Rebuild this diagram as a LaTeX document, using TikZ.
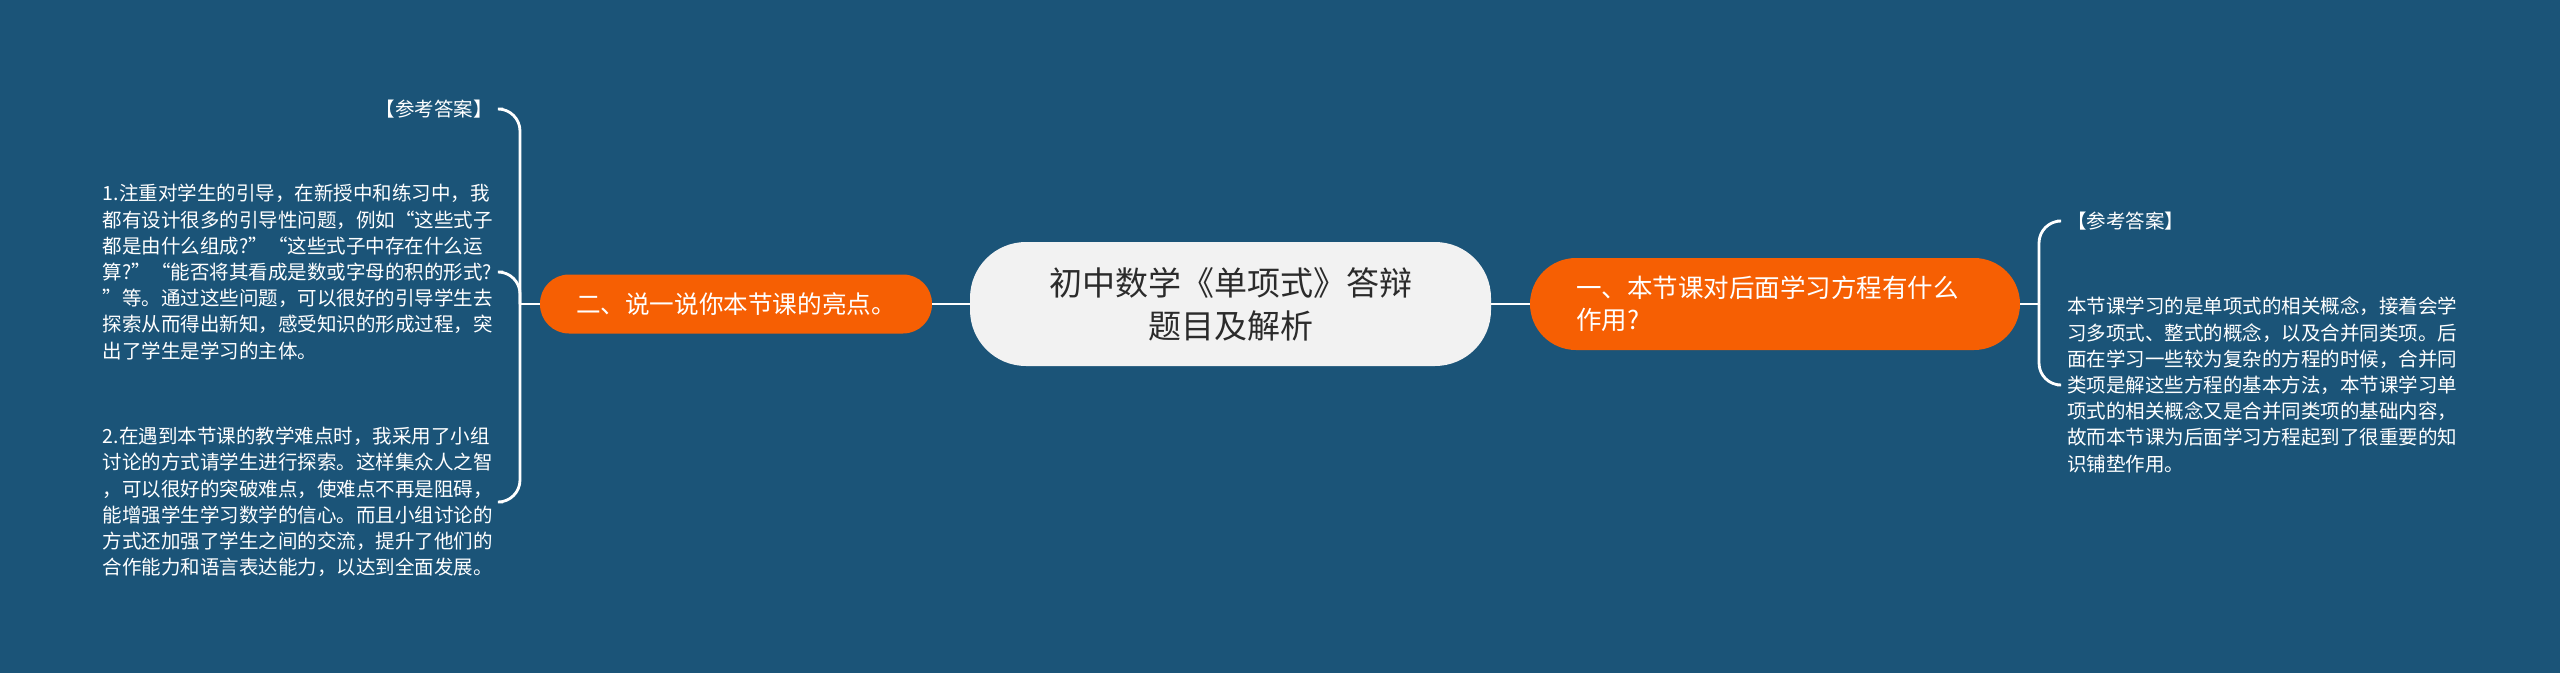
\documentclass[tikz,border=0pt]{standalone}
\usepackage{fontspec}
\setmainfont{Noto Sans CJK SC}
\definecolor{bg}{HTML}{1B5478}
\definecolor{org}{HTML}{F65F03}
\definecolor{ctr}{HTML}{F2F2F2}
\definecolor{ttl}{HTML}{2B2B2B}
\begin{document}
\begin{tikzpicture}[x=1pt,y=-1pt,
  conn/.style={draw=white,line width=2.8pt},
  ctrbox/.style={fill=ctr,rounded corners=56pt,minimum width=521pt,minimum height=124pt,text=ttl,font=\fontsize{33}{43}\selectfont,align=center,inner sep=0pt},
  topicbox/.style={fill=org,text=white,inner sep=0pt},
  leaf/.style={text=white,font=\fontsize{19.5}{26.2}\selectfont,align=left,inner xsep=10pt,inner ysep=2pt},
]
\fill[bg] (0,0) rectangle (2560,673);
\node[ctrbox] (c) at (1230.5,304) {初中数学《单项式》答辩\\题目及解析};
\node[topicbox,rounded corners=29pt,minimum width=392pt,minimum height=59pt,font=\fontsize{24.6}{30}\selectfont] (l) at (736,304) {二、说一说你本节课的亮点。};
\node[topicbox,rounded corners=46pt,minimum width=490pt,minimum height=92pt,font=\fontsize{25.5}{32}\selectfont,text width=398pt,inner xsep=46pt,align=left] (r) at (1775,304) {一、本节课对后面学习方程有什么\\作用?};

\node[leaf,anchor=east] (la) at (503,109) {【参考答案】};
\node[leaf,anchor=east] (lb) at (503,272) {1.注重对学生的引导，在新授中和练习中，我\\都有设计很多的引导性问题，例如“这些式子\\都是由什么组成?”“这些式子中存在什么运\\算?”“能否将其看成是数或字母的积的形式?\\”等。通过这些问题，可以很好的引导学生去\\探索从而得出新知，感受知识的形成过程，突\\出了学生是学习的主体。};
\node[leaf,anchor=east] (lc) at (503,502) {2.在遇到本节课的教学难点时，我采用了小组\\讨论的方式请学生进行探索。这样集众人之智\\，可以很好的突破难点，使难点不再是阻碍，\\能增强学生学习数学的信心。而且小组讨论的\\方式还加强了学生之间的交流，提升了他们的\\合作能力和语言表达能力，以达到全面发展。};

\node[leaf,anchor=west] (ra) at (2057,221) {【参考答案】};
\node[leaf,anchor=west] (rb) at (2057,385) {本节课学习的是单项式的相关概念，接着会学\\习多项式、整式的概念，以及合并同类项。后\\面在学习一些较为复杂的方程的时候，合并同\\类项是解这些方程的基本方法，本节课学习单\\项式的相关概念又是合并同类项的基础内容，\\故而本节课为后面学习方程起到了很重要的知\\识铺垫作用。};

\coordinate (jl) at (520,304);
\coordinate (jr) at (2039,304);
\draw[conn] (c.west) -- (l.east);
\draw[conn] (c.east) -- (r.west);
\draw[conn] (l.west) -- (jl);
\draw[conn] (r.east) -- (jr);
\draw[conn,rounded corners=22pt] (jl) -- (jl |- la.east) -- (la.east);
\draw[conn,rounded corners=22pt] (jl) -- (jl |- lb.east) -- (lb.east);
\draw[conn,rounded corners=22pt] (jl) -- (jl |- lc.east) -- (lc.east);
\draw[conn,rounded corners=22pt] (jr) -- (jr |- ra.west) -- (ra.west);
\draw[conn,rounded corners=22pt] (jr) -- (jr |- rb.west) -- (rb.west);
\end{tikzpicture}
\end{document}
